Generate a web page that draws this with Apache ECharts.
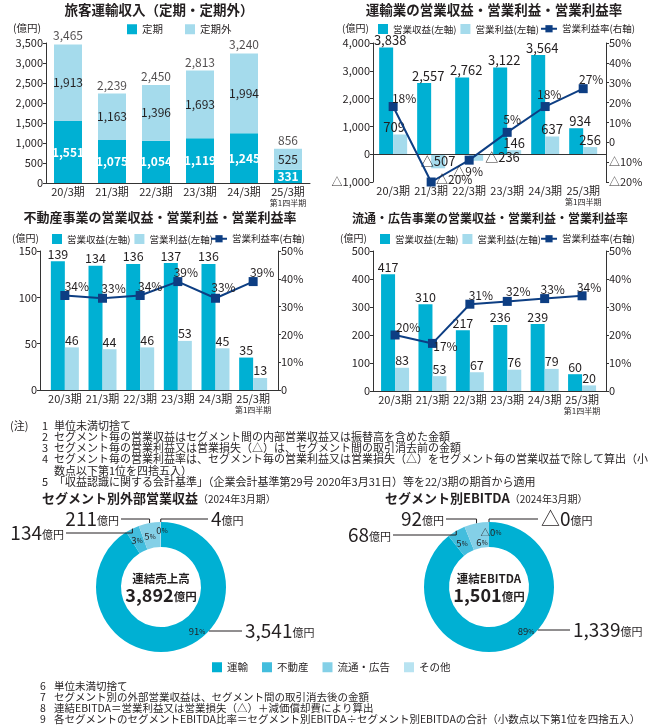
<!DOCTYPE html>
<html><head><meta charset="utf-8">
<script src="https://cdn.jsdelivr.net/npm/echarts@6/dist/echarts.min.js"></script>
<style>html,body{margin:0;padding:0;background:#fff;}#chart{width:650px;height:725px;}</style>
</head><body><div id="chart"></div>
<script>
// ---------------- data ----------------
const categories = ['20/3期', '21/3期', '22/3期', '23/3期', '24/3期', '25/3期'];
const quarterNote = '第1四半期';

// 旅客運輸収入
const teiki = [1551, 1075, 1054, 1119, 1245, 331];
const teikigai = [1913, 1163, 1396, 1693, 1994, 525];
const ryokakuTotal = [3465, 2239, 2450, 2813, 3240, 856];

// 運輸業
const unyuRevenue = [3838, 2557, 2762, 3122, 3564, 934];
const unyuProfit = [709, -507, -236, 146, 637, 256];
const unyuMargin = [18, -20, -9, 5, 18, 27];

// 不動産事業
const fudosanRevenue = [139, 134, 136, 137, 136, 35];
const fudosanProfit = [46, 44, 46, 53, 45, 13];
const fudosanMargin = [34, 33, 34, 39, 33, 39];

// 流通・広告事業
const ryutsuRevenue = [417, 310, 217, 236, 239, 60];
const ryutsuProfit = [83, 53, 67, 76, 79, 20];
const ryutsuMargin = [20, 17, 31, 32, 33, 34];

// セグメント別（2024年3月期）
const segments = ['運輸', '不動産', '流通・広告', 'その他'];
const externalRevenue = [3541, 134, 211, 4];
const externalTotal = 3892;
const ebitda = [1339, 68, 92, 0];
const ebitdaNegative = [false, false, false, true];
const ebitdaTotal = 1501;

// ---------------- style / layout ----------------
const FONT = '"Noto Sans CJK JP","Noto Sans",sans-serif';
const TXT = '#231f20';
const AX = '#333333';
const C_DARK = '#00b0d3', C_LIGHT = '#a5dbec', C_LINE = '#0d3e83';
const SEG_COLORS = ['#00b0d3', '#43bddd', '#84d0e7', '#b8e3f1'];
const N_REV = '営業収益(左軸)', N_PROF = '営業利益(左軸)', N_RATE = '営業利益率(右軸)';

// horizontal extent of the category positions inside each grid (padding before first / after last)
const xRange2 = [-0.53, 5.6];
const xRange3 = [-0.66, 5.66];
const xRange4 = [-0.59, 5.64];

const unyuRateOffsets = [[11, -8], [23, -3], [-1, 11], [5, -13], [4, -12], [8, -9]];
const fudosanRateOffsets = [[12, -9], [11, -10], [10, -9], [8, -9], [8, -11], [9, -9]];
const ryutsuRateOffsets = [[13, -8], [13, 3], [11, -9], [11, -10], [8, -9], [7, -8]];
const unyuProfitLabels = [{ offset: [-6, 0] }, { position: 'inside' }, { position: 'right', distance: 2 }, null, null, null];

const donuts = [
  { center: [161, 587], inner: 40, outer: 65,
    pctPos: [[36, 44], [-24, -47], [-11, -51], [1, -57]],
    anchors: [{ x: 245, y: 631, align: 'left', edge: true }, { x: 64, y: 533, align: 'right' },
              { x: 119, y: 519, align: 'right' }, { x: 211, y: 519, align: 'left' }] },
  { center: [489, 587], inner: 40, outer: 65,
    pctPos: [[37, 44], [-27, -44], [-7, -45], [2, -55]],
    anchors: [{ x: 573, y: 630, align: 'left', edge: true }, { x: 391, y: 535, align: 'right' },
              { x: 444, y: 519, align: 'right' }, { x: 541, y: 519, align: 'left' }] }
];

// ---------------- helpers ----------------
function fmt(v) { const s = Math.abs(v).toLocaleString('en-US'); return v < 0 ? '△' + s : s; }
function pctAxis(v) { if (v === 0) return '0'; return (v < 0 ? '△' + Math.abs(v) : v) + '%'; }
function pctLabel(v) { return (v < 0 ? '△' + Math.abs(v) : v) + '%'; }
function val(p) { return Array.isArray(p.value) ? p.value[1] : p.value; }
function catText(i) { return i === categories.length - 1 ? categories[i] + '\n{s|' + quarterNote + '}' : categories[i]; }
const catRich = { s: { fontSize: 8, lineHeight: 10, color: TXT } };

function catAxis(g) {
  return {
    type: 'category', gridIndex: g, data: categories,
    axisLine: { show: true, onZero: false, lineStyle: { color: AX, width: 1 } },
    axisTick: { show: false },
    axisLabel: { interval: 0, margin: 3, fontSize: 11, color: TXT, lineHeight: 12,
      formatter: (v, i) => catText(i), rich: catRich }
  };
}
function posAxis(g, range, showLine) {
  return {
    type: 'value', gridIndex: g, min: range[0], max: range[1],
    axisLine: { show: showLine, onZero: false, lineStyle: { color: AX, width: 1 } },
    axisTick: { show: false }, splitLine: { show: false },
    axisLabel: { customValues: categories.map((c, i) => i), margin: 3, fontSize: 11, color: TXT, lineHeight: 12,
      formatter: v => catText(Math.round(v)), rich: catRich }
  };
}
function valAxis(g, pos, min, max, interval, formatter) {
  return {
    type: 'value', gridIndex: g, position: pos, min, max, interval,
    axisLine: { show: true, onZero: false, lineStyle: { color: AX, width: 1 } },
    axisTick: { show: true, length: 3, lineStyle: { color: AX } },
    splitLine: { show: false },
    axisLabel: { fontSize: 11, color: TXT, margin: 3, formatter }
  };
}
function barSeries(name, xi, yi, values, color, fontSize, itemLabels, extra) {
  return Object.assign({
    name, type: 'bar', xAxisIndex: xi, yAxisIndex: yi, barWidth: 14, barGap: '0%',
    data: values.map((v, i) => (itemLabels && itemLabels[i]) ? { value: [i, v], label: itemLabels[i] } : [i, v]),
    itemStyle: { color },
    label: { show: true, position: 'top', distance: 1, color: TXT, fontSize, formatter: p => fmt(val(p)) }
  }, extra || {});
}
function rateSeries(xi, yi, values, offsets) {
  return {
    name: N_RATE, type: 'line', xAxisIndex: xi, yAxisIndex: yi, z: 5,
    data: values.map((v, i) => ({ value: [i, v], label: { offset: offsets[i] } })),
    symbol: 'rect', symbolSize: 9,
    lineStyle: { color: C_LINE, width: 2 }, itemStyle: { color: C_LINE },
    label: { show: true, position: 'inside', color: TXT, fontSize: 12, textBorderWidth: 0,
             formatter: p => pctLabel(val(p)) }
  };
}
function pctOf(values, i) { const s = values.reduce((a, b) => a + b, 0); return Math.round(values[i] / s * 100); }

function outerLayout(d) {
  const L = donuts[d];
  return function (params) {
    const a = L.anchors[params.dataIndex];
    const endX = a.align === 'left' ? a.x - 3 : a.x + 2;
    let pts;
    if (a.edge) {
      const dy = a.y - L.center[1];
      const dx = Math.sqrt(L.outer * L.outer - dy * dy);
      const sx = L.center[0] + (a.align === 'left' ? dx : -dx);
      pts = [[sx, a.y], [sx, a.y], [endX, a.y]];
    } else {
      const p0 = params.labelLinePoints[0];
      pts = [[p0[0], p0[1]], [p0[0], a.y], [endX, a.y]];
    }
    return { x: a.x, y: a.y, align: a.align, verticalAlign: 'middle', labelLinePoints: pts };
  };
}
function pctLayout(d) {
  const L = donuts[d];
  return function (params) {
    const o = L.pctPos[params.dataIndex];
    return { x: L.center[0] + o[0], y: L.center[1] + o[1], align: 'center', verticalAlign: 'middle' };
  };
}
function donutSeries(d, values, negFlags) {
  const L = donuts[d];
  const base = {
    type: 'pie', center: L.center, radius: [L.inner, L.outer], startAngle: 90, clockwise: true,
    avoidLabelOverlap: false, silent: true, emphasis: { disabled: true }
  };
  const inner = Object.assign({}, base, {
    name: 'pct' + d,
    data: segments.map((n, i) => ({ name: n, value: values[i], itemStyle: { color: SEG_COLORS[i], borderWidth: 0 } })),
    label: {
      show: true, position: 'inside', color: TXT, textBorderWidth: 0,
      formatter: p => '{n|' + ((negFlags && negFlags[p.dataIndex]) ? '△' : '') + pctOf(values, p.dataIndex) + '}{p|%}',
      rich: { n: { fontSize: 9.5, color: TXT }, p: { fontSize: 6.5, color: TXT, padding: [2, 0, 0, 0] } }
    },
    labelLine: { show: false },
    labelLayout: pctLayout(d)
  });
  const outer = Object.assign({}, base, {
    name: 'val' + d, z: 3,
    data: segments.map((n, i) => ({ name: n, value: values[i], itemStyle: { color: 'rgba(0,0,0,0)', borderWidth: 0 } })),
    label: {
      show: true, position: 'outside', color: TXT,
      formatter: p => '{n|' + ((negFlags && negFlags[p.dataIndex]) ? '△' : '') + fmt(values[p.dataIndex]) + '}{u|億円}',
      rich: { n: { fontSize: 19, color: TXT }, u: { fontSize: 11, color: TXT, padding: [4, 0, 0, 0] } }
    },
    labelLine: { show: true, length: 5, length2: 5, lineStyle: { color: TXT, width: 1 } },
    labelLayout: outerLayout(d)
  });
  return [inner, outer];
}

function t(text, left, top, size, weight, extraStyle, align) {
  return { text, left, top, padding: 0, textAlign: align || 'left',
    textStyle: Object.assign({ fontSize: size, fontWeight: weight || 'normal', color: TXT, fontFamily: FONT }, extraStyle || {}) };
}

const notesA = [
  '単位未満切捨て',
  'セグメント毎の営業収益はセグメント間の内部営業収益又は振替高を含めた金額',
  'セグメント毎の営業利益又は営業損失（△）は、セグメント間の取引消去前の金額',
  'セグメント毎の営業利益率は、セグメント毎の営業利益又は営業損失（△）をセグメント毎の営業収益で除して算出（小',
  '数点以下第1位を四捨五入）',
  '「収益認識に関する会計基準」（企業会計基準第29号 2020年3月31日）等を22/3期の期首から適用'
];
const notesB = [
  '単位未満切捨て',
  'セグメント別の外部営業収益は、セグメント間の取引消去後の金額',
  '連結EBITDA＝営業利益又は営業損失（△）＋減価償却費により算出',
  '各セグメントのセグメントEBITDA比率＝セグメント別EBITDA÷セグメント別EBITDAの合計（小数点以下第1位を四捨五入）'
];

const legendBase = { padding: 0, selectedMode: false, itemWidth: 10, itemHeight: 10, icon: 'rect',
  textStyle: { fontSize: 9.5, color: TXT, fontFamily: FONT } };
function lg(data, left, top, extra) { return Object.assign({}, legendBase, { data, left, top }, extra || {}); }
const lineLegend = { itemWidth: 16, itemHeight: 9, icon: null };

const titleRich = { b: { fontSize: 13, fontWeight: 'bold', color: TXT }, s: { fontSize: 10, fontWeight: 'normal', color: TXT, padding: [2, 0, 0, 0] } };
const centerRich = { n: { fontSize: 18, fontWeight: 'bold', color: TXT }, u: { fontSize: 11.5, fontWeight: 'bold', color: TXT, padding: [3, 0, 0, 0] } };

const chart = echarts.init(document.getElementById('chart'), null, { renderer: 'canvas' });
const option = {
  animation: false,
  textStyle: { fontFamily: FONT, color: TXT },
  title: [
    t('旅客運輸収入（定期・定期外）', 159, 3, 13.5, 'bold', null, 'center'),
    t('運輸業の営業収益・営業利益・営業利益率', 494, 3, 13.5, 'bold', null, 'center'),
    t('不動産事業の営業収益・営業利益・営業利益率', 160, 211, 13, 'bold', null, 'center'),
    t('流通・広告事業の営業収益・営業利益・営業利益率', 490, 212, 12, 'bold', null, 'center'),
    t('(億円)', 13, 23, 10.5),
    t('(億円)', 342, 23, 10),
    t('(億円)', 12, 233, 10),
    t('(億円)', 340, 233, 10),
    t('(注)', 10, 420, 11),
    t('1\n2\n3\n4\n\n5', 42, 420, 11, 'normal', { lineHeight: 11.2 }),
    t(notesA.join('\n'), 54, 420, 11, 'normal', { lineHeight: 11.2 }),
    t('{b|セグメント別外部営業収益}{s|（2024年3月期）}', 42, 492, 13, 'normal', { rich: titleRich }),
    t('{b|セグメント別EBITDA}{s|（2024年3月期）}', 385, 492, 13, 'normal', { rich: titleRich }),
    t('連結売上高', 161, 573, 11.5, 'bold', null, 'center'),
    t('{n|' + fmt(externalTotal) + '}{u|億円}', 161, 586, 12, 'normal', { rich: centerRich }, 'center'),
    t('連結EBITDA', 489, 573, 11.5, 'bold', null, 'center'),
    t('{n|' + fmt(ebitdaTotal) + '}{u|億円}', 489, 586, 12, 'normal', { rich: centerRich }, 'center'),
    t('6\n7\n8\n9', 40, 680, 10.5, 'normal', { lineHeight: 11.2 }),
    t(notesB.join('\n'), 54, 680, 10.5, 'normal', { lineHeight: 11.2 })
  ],
  legend: [
    lg(['定期', '定期外'], 127, 24, { itemGap: 22, textStyle: { fontSize: 10.5, color: TXT, fontFamily: FONT } }),
    lg([N_REV, N_PROF], 378, 24, { itemGap: 4 }),
    lg([N_RATE], 540, 24, lineLegend),
    lg([N_REV, N_PROF], 52, 234, { itemGap: 4 }),
    lg([N_RATE], 210, 234, lineLegend),
    lg([N_REV, N_PROF], 380, 234, { itemGap: 4 }),
    lg([N_RATE], 540, 234, lineLegend),
    lg(segments, 212, 662, { itemGap: 14, textStyle: { fontSize: 10.5, color: TXT, fontFamily: FONT } })
  ],
  grid: [
    { left: 46, top: 43, width: 264, height: 140 },
    { left: 373, top: 43, width: 233, height: 139 },
    { left: 40, top: 251, width: 238, height: 139 },
    { left: 373, top: 251, width: 233, height: 140 }
  ],
  xAxis: [catAxis(0), posAxis(1, xRange2, false), posAxis(2, xRange3, true), posAxis(3, xRange4, true)],
  yAxis: [
    valAxis(0, 'left', 0, 3500, 500, fmt),
    valAxis(1, 'left', -1000, 4000, 1000, fmt),
    valAxis(1, 'right', -20, 50, 10, pctAxis),
    valAxis(2, 'left', 0, 150, 50, fmt),
    valAxis(2, 'right', 0, 50, 10, pctAxis),
    valAxis(3, 'left', 0, 500, 100, fmt),
    valAxis(3, 'right', 0, 50, 10, pctAxis)
  ],
  series: [
    // chart 1
    { name: '定期', type: 'bar', xAxisIndex: 0, yAxisIndex: 0, stack: 'ryokaku', barWidth: 28, data: teiki,
      itemStyle: { color: C_DARK },
      label: { show: true, position: 'inside', color: '#fff', fontWeight: 'bold', fontSize: 12, textBorderWidth: 0, formatter: p => fmt(p.value) } },
    { name: '定期外', type: 'bar', xAxisIndex: 0, yAxisIndex: 0, stack: 'ryokaku', barWidth: 28, data: teikigai,
      itemStyle: { color: C_LIGHT },
      label: { show: true, position: 'inside', color: TXT, fontSize: 12, textBorderWidth: 0, formatter: p => fmt(p.value) } },
    { name: '合計', type: 'scatter', xAxisIndex: 0, yAxisIndex: 0, data: ryokakuTotal, symbolSize: 1, silent: true,
      itemStyle: { color: 'rgba(0,0,0,0)' },
      label: { show: true, position: 'top', distance: 2, color: TXT, fontSize: 12, formatter: p => fmt(p.value) } },
    // chart 2
    barSeries(N_REV, 1, 1, unyuRevenue, C_DARK, 13, null, {
      label: { show: true, position: 'top', distance: 1, color: TXT, fontSize: 13, offset: [4, 0], formatter: p => fmt(val(p)) },
      markLine: { silent: true, symbol: 'none', label: { show: false }, lineStyle: { color: AX, type: 'solid', width: 1 }, data: [{ yAxis: 0 }] }
    }),
    barSeries(N_PROF, 1, 1, unyuProfit, C_LIGHT, 13, unyuProfitLabels),
    rateSeries(1, 2, unyuMargin, unyuRateOffsets),
    // chart 3
    barSeries(N_REV, 2, 3, fudosanRevenue, C_DARK, 12.5),
    barSeries(N_PROF, 2, 3, fudosanProfit, C_LIGHT, 12.5),
    rateSeries(2, 4, fudosanMargin, fudosanRateOffsets),
    // chart 4
    barSeries(N_REV, 3, 5, ryutsuRevenue, C_DARK, 12.5),
    barSeries(N_PROF, 3, 5, ryutsuProfit, C_LIGHT, 12.5),
    rateSeries(3, 6, ryutsuMargin, ryutsuRateOffsets)
  ].concat(donutSeries(0, externalRevenue, null), donutSeries(1, ebitda, ebitdaNegative))
};
chart.setOption(option);
</script></body></html>
